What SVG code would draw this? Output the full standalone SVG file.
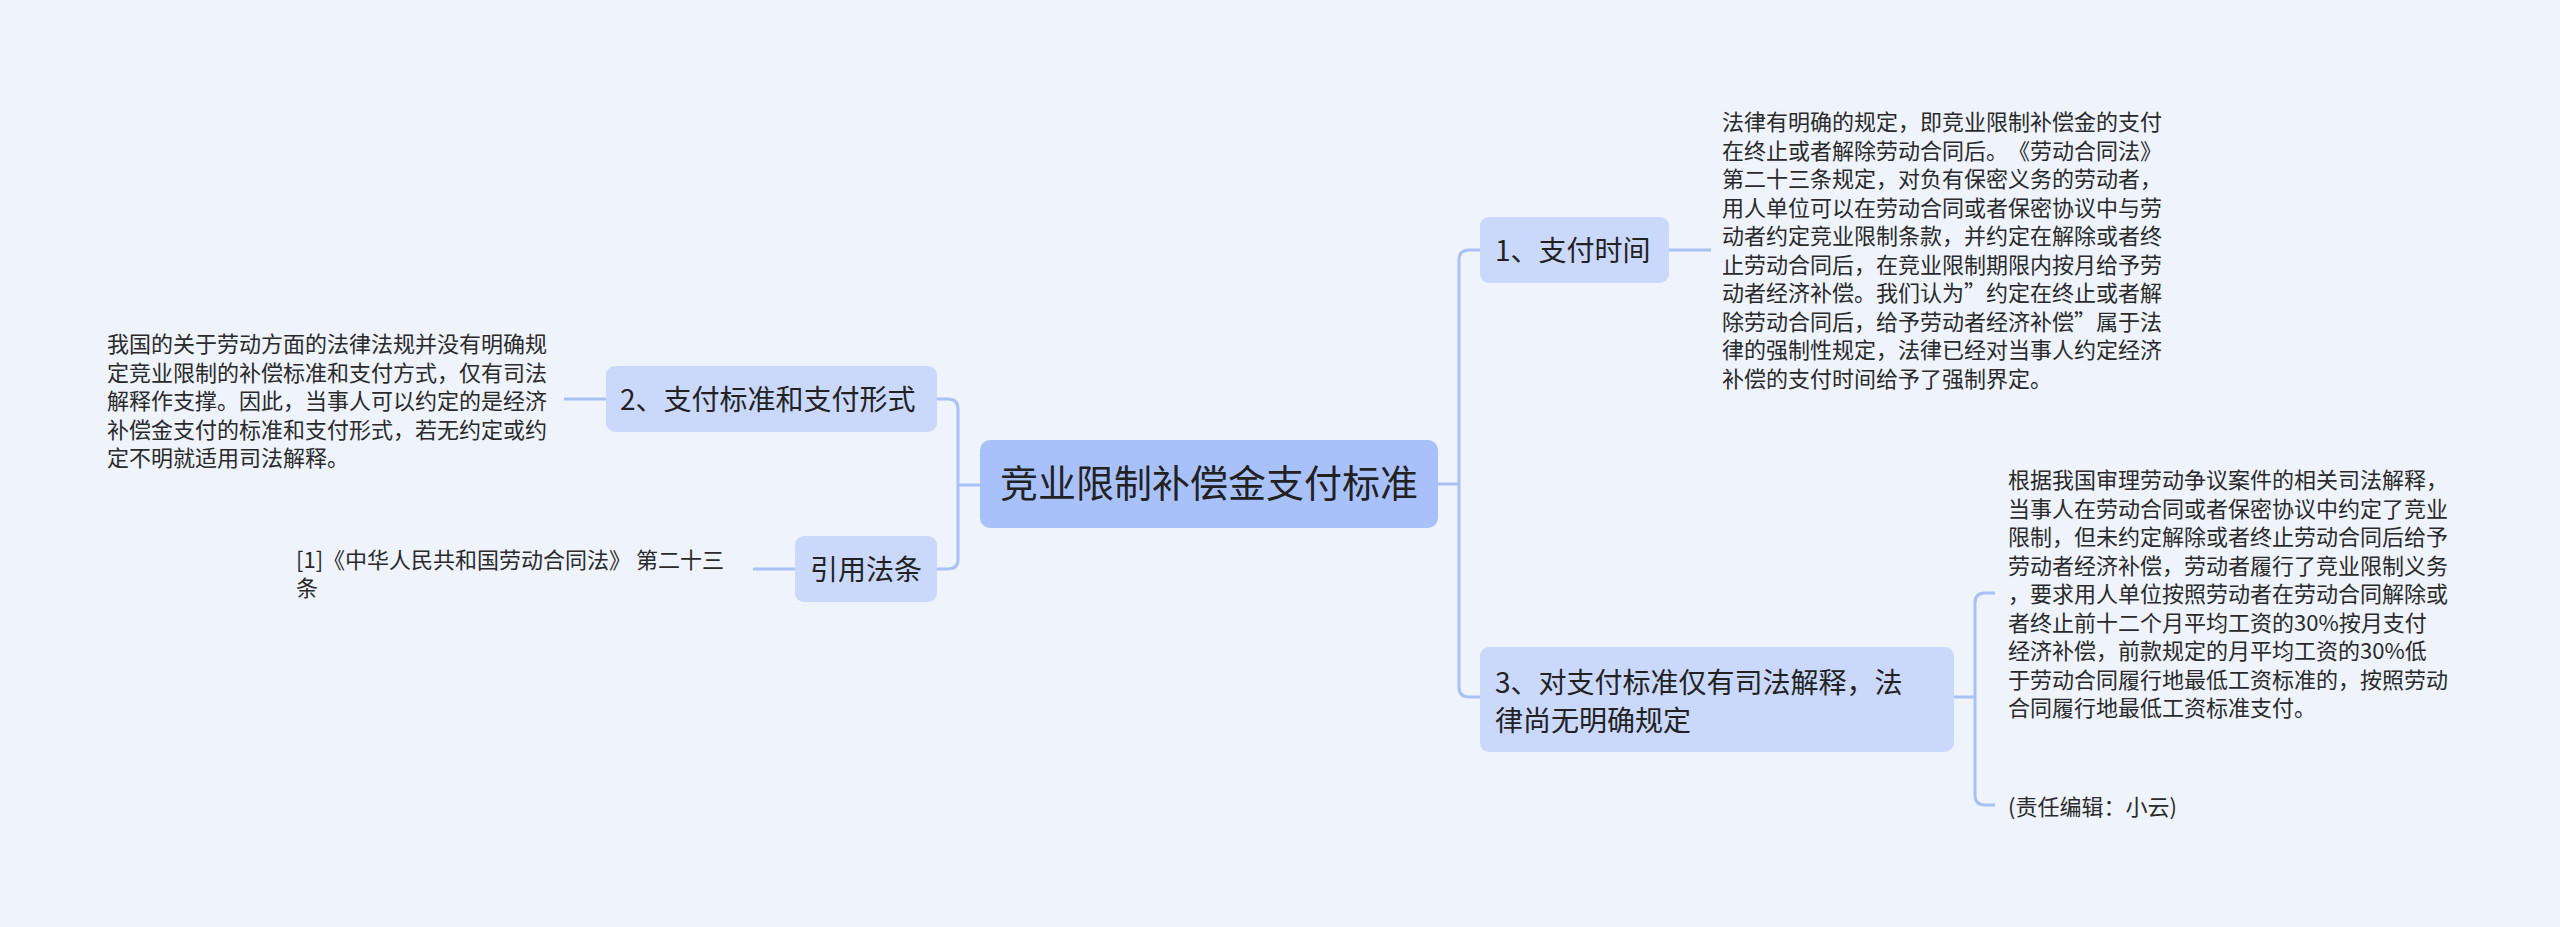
<svg xmlns="http://www.w3.org/2000/svg" width="2560" height="927" viewBox="0 0 2560 927">
<style>
text{font-family:"Noto Sans CJK SC","Noto Sans",sans-serif;fill:#222;text-spacing-trim:space-all;}
.root{font-size:38px;}
.l1{font-size:28px;}
.leaf{font-size:22px;fill:#2a2a2a;}
.c{fill:none;stroke:#a9c1f5;stroke-width:3;}
</style>
<rect width="2560" height="927" fill="#eef3fc"/>
<g id="connectors">
<path class="c" d="M1438 484 H1459"/>
<path class="c" d="M1480 250 H1469 Q1459 250 1459 260 V687 Q1459 697 1469 697 H1480"/>
<path class="c" d="M1669 250 H1711"/>
<path class="c" d="M1954 697 H1975"/>
<path class="c" d="M1995 593 H1985 Q1975 593 1975 603 V795 Q1975 805 1985 805 H1995"/>
<path class="c" d="M980 485 H958"/>
<path class="c" d="M937 399 H948 Q958 399 958 409 V559 Q958 569 948 569 H937"/>
<path class="c" d="M606 399 H564"/>
<path class="c" d="M795 569 H753"/>
</g>
<g id="root">
<rect x="980" y="440" width="458" height="88" rx="10" fill="#a9c1fb"/>
<text class="root" x="1209" y="497" text-anchor="middle">竞业限制补偿金支付标准</text>
</g>
<g id="n1">
<rect x="1480" y="217" width="189" height="66" rx="9" fill="#c9d8fb"/>
<text class="l1" x="1495" y="261">1、支付时间</text>
</g>
<g id="n1-leaf">
<text class="leaf">
<tspan x="1722" y="130">法律有明确的规定，即竞业限制补偿金的支付</tspan>
<tspan x="1722" y="158.5">在终止或者解除劳动合同后。《劳动合同法》</tspan>
<tspan x="1722" y="187">第二十三条规定，对负有保密义务的劳动者，</tspan>
<tspan x="1722" y="215.5">用人单位可以在劳动合同或者保密协议中与劳</tspan>
<tspan x="1722" y="244">动者约定竞业限制条款，并约定在解除或者终</tspan>
<tspan x="1722" y="272.5">止劳动合同后，在竞业限制期限内按月给予劳</tspan>
<tspan x="1722" y="301">动者经济补偿。我们认为”约定在终止或者解</tspan>
<tspan x="1722" y="329.5">除劳动合同后，给予劳动者经济补偿”属于法</tspan>
<tspan x="1722" y="358">律的强制性规定，法律已经对当事人约定经济</tspan>
<tspan x="1722" y="386.5">补偿的支付时间给予了强制界定。</tspan>
</text>
</g>
<g id="n2">
<rect x="606" y="366" width="331" height="66" rx="9" fill="#c9d8fb"/>
<text class="l1" x="620" y="410">2、支付标准和支付形式</text>
</g>
<g id="n2-leaf">
<text class="leaf">
<tspan x="107" y="352">我国的关于劳动方面的法律法规并没有明确规</tspan>
<tspan x="107" y="380.5">定竞业限制的补偿标准和支付方式，仅有司法</tspan>
<tspan x="107" y="409">解释作支撑。因此，当事人可以约定的是经济</tspan>
<tspan x="107" y="437.5">补偿金支付的标准和支付形式，若无约定或约</tspan>
<tspan x="107" y="466">定不明就适用司法解释。</tspan>
</text>
</g>
<g id="n4">
<rect x="795" y="536" width="142" height="66" rx="9" fill="#c9d8fb"/>
<text class="l1" x="866" y="580" text-anchor="middle">引用法条</text>
</g>
<g id="n4-leaf">
<text class="leaf">
<tspan x="296" y="568">[1]《中华人民共和国劳动合同法》 第二十三</tspan>
<tspan x="296" y="596">条</tspan>
</text>
</g>
<g id="n3">
<rect x="1480" y="647" width="474" height="105" rx="9" fill="#c9d8fb"/>
<text class="l1">
<tspan x="1495" y="693">3、对支付标准仅有司法解释，法</tspan>
<tspan x="1495" y="731">律尚无明确规定</tspan>
</text>
</g>
<g id="n3-leaf1">
<text class="leaf">
<tspan x="2008" y="488">根据我国审理劳动争议案件的相关司法解释，</tspan>
<tspan x="2008" y="516.5">当事人在劳动合同或者保密协议中约定了竞业</tspan>
<tspan x="2008" y="545">限制，但未约定解除或者终止劳动合同后给予</tspan>
<tspan x="2008" y="573.5">劳动者经济补偿，劳动者履行了竞业限制义务</tspan>
<tspan x="2008" y="602">，要求用人单位按照劳动者在劳动合同解除或</tspan>
<tspan x="2008" y="630.5">者终止前十二个月平均工资的30%按月支付</tspan>
<tspan x="2008" y="659">经济补偿，前款规定的月平均工资的30%低</tspan>
<tspan x="2008" y="687.5">于劳动合同履行地最低工资标准的，按照劳动</tspan>
<tspan x="2008" y="716">合同履行地最低工资标准支付。</tspan>
</text>
</g>
<g id="n3-leaf2">
<text class="leaf" x="2008" y="815">(责任编辑：小云)</text>
</g>
</svg>
